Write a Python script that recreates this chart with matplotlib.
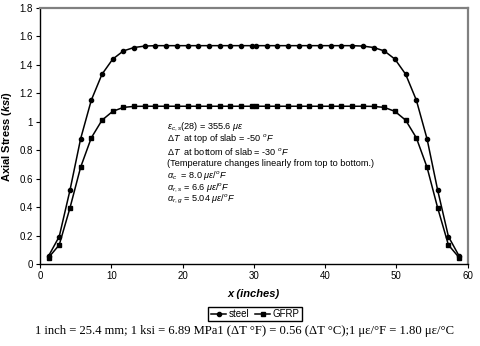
import matplotlib
matplotlib.use("Agg")
from matplotlib import pyplot as plt
from matplotlib.ticker import MultipleLocator

plt.rcParams['font.family'] = ['Liberation Sans', 'DejaVu Sans']
plt.rcParams['mathtext.fontset'] = 'custom'
plt.rcParams['mathtext.rm'] = 'Liberation Sans'
plt.rcParams['mathtext.it'] = 'Liberation Sans:italic'
plt.rcParams['mathtext.bf'] = 'Liberation Sans:bold:italic'

# data
x_in = [1.2, 2.7, 4.2, 5.7, 7.2, 8.7, 10.2, 11.7, 13.2, 14.7,
        16.2, 17.7, 19.2, 20.7, 22.2, 23.7, 25.2, 26.7, 28.2, 29.7,
        30.3, 31.8, 33.3, 34.8, 36.3, 37.8, 39.3, 40.8, 42.3, 43.8,
        45.3, 46.8, 48.3, 49.8, 51.3, 52.8, 54.3, 55.8, 57.3, 58.8]
steel = [0.056, 0.193, 0.517, 0.88, 1.152, 1.334, 1.44, 1.498, 1.522, 1.532,
         1.535, 1.535, 1.535, 1.535, 1.535, 1.535, 1.535, 1.535, 1.535, 1.535,
         1.535, 1.535, 1.535, 1.535, 1.535, 1.535, 1.535, 1.535, 1.535, 1.535,
         1.532, 1.522, 1.498, 1.44, 1.334, 1.152, 0.88, 0.517, 0.193, 0.056]
gfrp = [0.045, 0.134, 0.393, 0.68, 0.887, 1.011, 1.073, 1.101, 1.108, 1.109,
        1.109, 1.109, 1.109, 1.109, 1.109, 1.109, 1.109, 1.109, 1.109, 1.109,
        1.109, 1.109, 1.109, 1.109, 1.109, 1.109, 1.109, 1.109, 1.109, 1.109,
        1.109, 1.108, 1.101, 1.073, 1.011, 0.887, 0.68, 0.393, 0.134, 0.045]

notes = [r"$\varepsilon_{c,s}$(28) = 355.6 $\mu\varepsilon$",
         r"$\Delta T$  at top of slab = -50 $^{o}F$",
         r"$\Delta T$  at bottom of slab = -30 $^{o}F$",
         "(Temperature changes linearly from top to bottom.)",
         r"$\alpha_{c}$  = 8.0 $\mu\varepsilon/^{o}F$",
         r"$\alpha_{r,s}$ = 6.6 $\mu\varepsilon/^{o}F$",
         r"$\alpha_{r,g}$ = 5.04 $\mu\varepsilon/^{o}F$"]
caption = "1 inch = 25.4 mm; 1 ksi = 6.89 MPa1 (\u0394T \u00b0F) = 0.56 (\u0394T \u00b0C);1 \u03bc\u03b5/\u00b0F = 1.80 \u03bc\u03b5/\u00b0C"

fig = plt.figure(figsize=(4.8, 3.46), dpi=100)
ax = fig.add_axes([0.0833, 0.237, 0.891, 0.740])

ax.plot(x_in, steel, 'k-', marker='o', ms=3, lw=1.1, label='steel')
ax.plot(x_in, gfrp, 'k-', marker='s', ms=3.5, lw=1.1, label='GFRP')

ax.set_xlim(0, 60)
ax.set_ylim(0, 1.8)
ax.xaxis.set_major_locator(MultipleLocator(10))
ax.yaxis.set_major_locator(MultipleLocator(0.2))
ax.yaxis.set_major_formatter(lambda v, p: f'{v:g}')
ax.tick_params(direction='out', length=3, width=0.8, labelsize=7, pad=2)

for s in ['top', 'right']:
    ax.spines[s].set_color('#808080')
    ax.spines[s].set_linewidth(1.6)
for s in ['left', 'bottom']:
    ax.spines[s].set_linewidth(1.0)

ax.set_ylabel(r"Axial Stress ($\mathbf{ksi}$)", fontsize=8, fontweight='bold', labelpad=4)
ax.set_xlabel("x (inches)", fontsize=8, fontweight='bold', style='italic', labelpad=6)

for i, t in enumerate(notes):
    fig.text(167/480, 1 - (126.7 + i*12.2)/346, t, fontsize=6.6, va='center', ha='left')

fig.legend(loc='center', bbox_to_anchor=(255/480, 1 - 314/346), ncol=2, fontsize=7,
           frameon=True, fancybox=False, edgecolor='black', framealpha=1,
           handlelength=1.6, handletextpad=0.2, columnspacing=0.6,
           borderpad=0.25, borderaxespad=0)

fig.text(245/480, 1 - 331/346, caption, fontsize=9.1, family='Liberation Serif',
         ha='center', va='center')

fig.savefig("out.png", dpi=100)
